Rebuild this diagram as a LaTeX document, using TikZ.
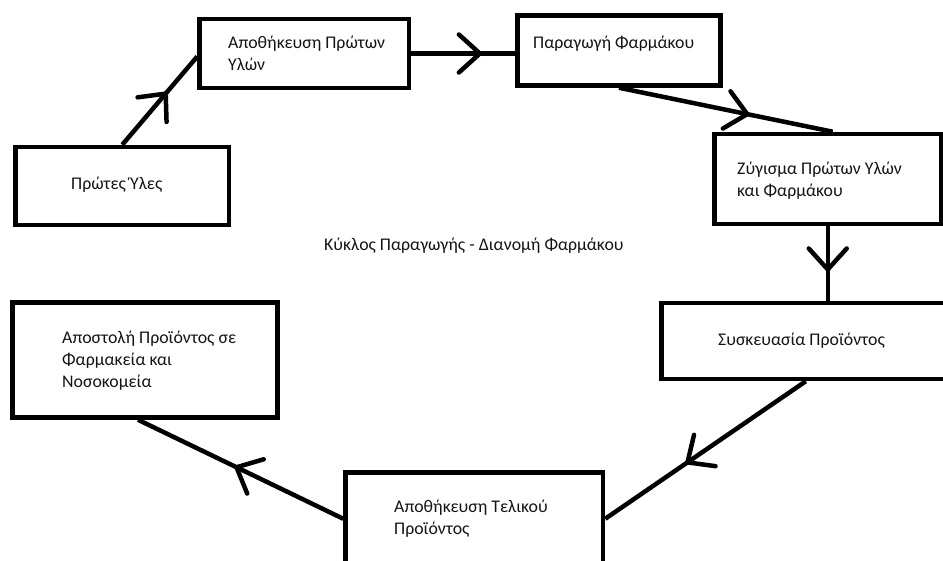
\documentclass[tikz,border=0pt]{standalone}
\usepackage{fontspec}
\setmainfont{Carlito}
\usetikzlibrary{decorations.markings,calc}
\begin{document}
\begin{tikzpicture}[x=1pt,y=-1pt,
  box/.style={draw=black,line width=4.5pt,rectangle,inner sep=0pt},
  lbl/.style={anchor=west,align=left,font=\fontsize{17.8}{22}\selectfont,text=black!92,inner sep=0pt},
  conn/.style={draw=black,line width=4.5pt,postaction={decorate},
    decoration={markings,mark=at position #1 with {\draw[line width=4.5pt,line cap=round,line join=miter] (-21pt,19pt) -- (0pt,0pt) -- (-21pt,-19pt);}}}]
\useasboundingbox (0,0) rectangle (943,560);
% boxes
\node[box,minimum width=213.5pt,minimum height=78pt] (b1) at (122.25,186) {};
\node[box,minimum width=209.5pt,minimum height=69pt] (b2) at (304.25,53.5) {};
\node[box,minimum width=203pt,minimum height=70pt] (b3) at (619,50.5) {};
\node[box,minimum width=226.5pt,minimum height=90pt] (b4) at (827.75,179) {};
\node[box,minimum width=288.5pt,minimum height=76pt] (b5) at (805.75,341) {};
\node[box,minimum width=257.5pt,minimum height=92.5pt] (b6) at (474.25,518.75) {};
\node[box,minimum width=265pt,minimum height=115pt] (b7) at (145,360) {};
% texts
\node[lbl] (t1) at (71,185) {Πρώτες Ύλες};
\node[lbl] (t2) at (228,53) {Αποθήκευση Πρώτων\\Υλών};
\node[lbl] (t3) at (533,44) {Παραγωγή Φαρμάκου};
\node[lbl] (t4) at (737,181) {Ζύγισμα Πρώτων Υλών\\και Φαρμάκου};
\node[lbl] (t5) at (718,341) {Συσκευασία Προϊόντος};
\node[lbl] (t6) at (394,519) {Αποθήκευση Τελικού\\Προϊόντος};
\node[lbl] (t7) at (62,361) {Αποστολή Προϊόντος σε\\Φαρμακεία και\\Νοσοκομεία};
\node[lbl] (title) at (324,246) {Κύκλος Παραγωγής - Διανομή Φαρμάκου};
% connectors
\coordinate (e2end) at (b2.east -| b3.west);
\coordinate (e4end) at (b4.south |- b5.north);
\coordinate (e6end) at ($(b7.south)+(-7,0)$);
\path[conn=0.58] (b1.north) -- ($(b2.west)+(0,3)$);
\path[conn=0.66] (b2.east) -- (e2end);
\path[conn=0.60] (b3.south) -- ($(b4.north)+(5,0)$);
\path[conn=0.58] (b4.south) -- (e4end);
\path[conn=0.59] (b5.south) -- (b6.east);
\path[conn=0.52] (b6.west) -- (e6end);
\end{tikzpicture}
\end{document}
